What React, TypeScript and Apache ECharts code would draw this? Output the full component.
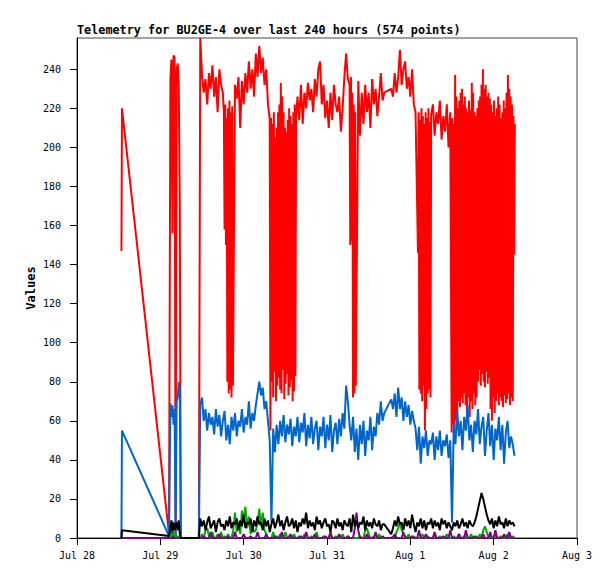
import React, { useEffect, useRef } from "react";
import * as echarts from "echarts";

const TITLE = "Telemetry for BU2GE-4 over last 240 hours (574 points)";
const Y_NAME = "Values";

// x axis: hours since Jul 28 00:00
const X_TICKS = [0, 24, 48, 72, 96, 120, 144];
const X_TICK_LABELS = ["Jul 28", "Jul 29", "Jul 30", "Jul 31", "Aug 1", "Aug 2", "Aug 3"];
const Y_TICKS = [0, 20, 40, 60, 80, 100, 120, 140, 160, 180, 200, 220, 240];

// early, irregular samples (all series)
const EARLY_HOURS = [12.8, 12.95, 26.5, 26.9, 27.2, 27.5, 27.8, 28.1, 28.4, 28.7, 29.0, 29.3, 29.6, 29.9, 30.2, 35.1];
const EARLY_RED = [147, 220, 2, 235, 245, 156, 247, 246, 0, 240, 243, 232, 172, 0, 0, 0];
const EARLY_BLUE = [0, 55, 1, 69, 62, 68, 58, 66, 0, 70, 72, 80, 76, 0, 0, 0];
const EARLY_GREEN = [0, 0, 0, 2, 4, 1, 3, 0, 2, 0, 1, 0, 0, 0, 0, 0];
const EARLY_PURPLE = [0, 0, 0, 0, 0, 1, 0, 0, 0, 0, 0, 0, 0, 0, 0, 0];
const EARLY_BLACK = [0, 4, 1, 5, 9, 3, 8, 4, 6, 8, 4, 9, 2, 0, 0, 0];

// red after hour 35.5: runs of samples [start hour, step hours, values]
const RED_N0 = [256, 237, 228, 235, 222, 238, 230, 242, 226, 236, 218, 240, 232, 228];
const RED_D1 = [218, 158, 222, 150, 215, 80, 220, 74, 224, 76, 218, 72, 221, 78];
const RED_N1 = [232, 225, 236, 210, 234, 222, 238, 228, 244, 230, 240, 226, 248, 236, 252, 238, 246, 232, 240, 222, 215];
const RED_D2 = [
  55, 215, 80, 212, 72, 218, 85, 205, 70, 210, 78, 218, 82, 222, 76, 233, 74, 226, 86, 218,
  71, 210, 79, 208, 84, 214, 73, 220, 77, 216, 81, 212, 70, 218, 75, 222, 83, 215,
];
const RED_N2 = [
  226, 214, 232, 212, 228, 220, 233, 224, 230, 218, 235, 226, 240, 244, 222,
  232, 215, 224, 210, 228, 214, 232, 222, 218, 226, 208, 220, 236, 248, 235,
];
const RED_D3 = [232, 150, 236, 152, 228, 72, 222, 74, 218, 78];
const RED_N3A = [234, 206, 228, 212, 232, 218, 228, 210, 235, 222, 230, 216, 226, 238, 224, 228];
const RED_N3B = [230, 226, 238, 228, 236, 250, 232, 240, 244, 230, 236, 226, 240, 222, 218];
const RED_D4 = [146, 218, 76, 214, 74, 220, 70, 216, 78, 212, 55, 218, 66, 215, 74, 220, 76, 213, 72, 217];
const RED_N4 = [222, 206, 218, 212, 224, 204, 216, 208, 222, 200, 218];
const RED_D5 = [
  54, 215, 58, 212, 56, 237, 60, 226, 55, 220, 70, 224, 67, 228, 72, 230, 69, 222, 74, 226,
  68, 220, 64, 218, 72, 224, 62, 219, 70, 233, 66, 228, 74, 218, 68, 216, 72, 220, 80, 224,
  86, 226, 78, 232, 84, 240, 80, 230, 77, 232, 85, 226, 79, 228, 82, 225, 66, 222, 60, 218,
  72, 224, 64, 216, 70, 220, 74, 226, 68, 222, 72, 215, 70, 218, 67, 224, 73, 220, 69, 228,
  71, 237, 74, 230, 68, 226, 72, 222, 70, 216, 145, 212,
];
const RED_RUNS: [number, number, number[]][] = [
  [35.5, 0.5, RED_N0],
  [42.3, 0.2, RED_D1],
  [45.5, 0.5, RED_N1],
  [55.7, 0.2, RED_D2],
  [63.5, 0.5, RED_N2],
  [78.5, 0.2, RED_D3],
  [81.0, 0.5, RED_N3A],
  [90.5, 0.5, RED_N3B],
  [98.2, 0.2, RED_D4],
  [102.5, 0.5, RED_N4],
  [107.9, 0.2, RED_D5],
];

// other series after hour 35.5, one sample every half hour (null = no sample)
const MAIN_START_H = 35.5;
const MAIN_STEP_H = 0.5;

const MAIN_BLUE = [
  68, 72, 60, 66, 55, 64, 58, 62, 53, 66, 57, 63, 52, 60,
  65, 50, 58, 48, 62, 55, 64, 52, 60, 57, 66, 54, 62, 58, 70, 56, 64, 60, 68, 74, 80, 73, 77, 66, 70, 60, 50,
  8, 56, 44, 58, 48, 60, 52, 63, 49, 58, 53, 61, 47, 57, 52, 62, 49, 59, 54, 64, 47, 58, 51, 62, 48, 56, 60, 45, 57, 52,
  62, 46, 58, 50, 63, 44, 55, 59, 48, 61, 52, 64, 56, 78, 70, 58, 50, 62, 44, 56, 40, 58, 48, 60, 42, 55, 50, 62, 45, 57,
  52, 64, 58, 70, 60, 64,
  null, null, null,
  71, 66, 74, 62, 77, 66, 72, 60, 70, 62, 68, 58, 65, 60, 56, 45, 57, 38, 52, 46, 55, 42, 50, 48, 54, 40, 52, 45, 55, 42,
  50, 47, 53, 41, 50,
  8, 58, 48, 65, 52, 60, 45, 62, 55, 68, 50, 58, 44, 60, 53, 66, 48, 57, 62, 42, 55, 64, 47, 58, 40, 56, 50, 62, 45, 58,
  38, 54, 60, 46, 52, 48, 42,
];

const MAIN_GREEN = [
  0, 2, 0, 4, 5, 1, 0, 3, 0, 0,
  2, 0, 3, 0, 1, 0, 2, 0, 0, 4,
  13, 3, 8, 2, 14, 9, 16, 5, 11, 2,
  6, 3, 4, 8, 15, 6, 13, 4, 2, 0,
  0, 0, 3, 0, 1, 0, 2, 0, 0, 3,
  0, 1, 0, 0, 2, 0, 0, 1, 0, 0,
  2, 0, 0, 0, 1, 0, 0, 3, 0, 0,
  0, 1, 0, 0, 0, 2, 0, 0, 1, 0,
  0, 0, 2, 0, 0, 1, 0, 0, 0, 0,
  0, 0, 1, 0, 0, 4, 5, 2, 0, 0,
  1, 0, 0, 2, 0, 0, 0,
  null, null, null,
  0, 1, 0, 3, 5, 8, 4, 2, 1, 0,
  2, 0, 0, 1, 0, 0, 0, 0, 2, 0,
  0, 1, 0, 0, 0, 2, 0, 0, 1, 0,
  0, 0, 2, 0, 0, 0, 1, 0, 0, 2,
  0, 0, 1, 0, 0, 0, 2, 0, 0, 1,
  0, 2, 0, 4, 6, 3, 0, 1, 0, 0,
  2, 0, 0, 1, 0, 0, 0, 2, 0, 0,
  1, 0,
];

const MAIN_PURPLE = [
  0, 0, 1, 0, 0, 0, 3, 0, 0, 0,
  0, 2, 0, 0, 0, 0, 1, 0, 0, 0,
  3, 0, 0, 0, 0, 2, 0, 0, 0, 1,
  0, 0, 0, 3, 0, 0, 0, 0, 2, 0,
  0, 0, 0, 1, 0, 0, 0, 3, 0, 0,
  0, 0, 2, 0, 0, 0, 0, 0, 1, 0,
  0, 3, 0, 0, 0, 0, 2, 0, 0, 0,
  0, 0, 1, 0, 0, 3, 0, 0, 0, 0,
  2, 0, 0, 0, 0, 1, 0, 0, 0, 5,
  13, 4, 0, 0, 0, 0, 2, 0, 0, 0,
  0, 3, 0, 0, 0, 1, 0,
  null, null, null,
  0, 0, 2, 0, 0, 0, 0, 3, 0, 0,
  0, 0, 1, 0, 0, 0, 4, 0, 0, 0,
  2, 0, 0, 0, 0, 3, 0, 0, 0, 0,
  1, 0, 0, 0, 4, 0, 0, 0, 0, 2,
  0, 0, 0, 4, 0, 0, 0, 0, 1, 0,
  0, 0, 0, 2, 0, 0, 0, 3, 0, 0,
  4, 0, 0, 0, 0, 2, 0, 0, 3, 0,
  0, 0,
];

const MAIN_BLACK = [
  10, 6, 9, 4, 8, 11, 5, 7, 9, 3, 8, 10, 6, 7, 4, 9, 6, 11, 5, 8, 7, 10, 4, 9, 6, 12, 5, 8, 7, 10, 3, 9, 6, 11, 7, 8, 4, 10, 6, 9, 3,
  7, 10, 5, 8, 12, 6, 9, 4, 8, 11, 6, 7, 10, 5, 9, 3, 8, 6, 10, 7, 13, 5, 9, 6, 8, 4, 11, 7, 9, 5, 8, 10, 6, 7, 3, 9, 8, 5, 10, 6,
  8, 4, 9, 7, 6, 10, 3, 12, 6, 9, 5, 8, 7, 11, 4, 9, 6, 8, 5, 10, 7, 6, 9, 4, 7, 7,
  null, null, null,
  2, 5, 9, 6, 11, 7, 8, 4, 10, 6, 9, 5, 12, 7, 3, 8, 6, 10, 5, 9, 4, 8, 7, 10, 5, 9, 6, 8, 4, 10, 7, 9, 5, 8, 6,
  4, 8, 6, 9, 5, 7, 10, 6, 8, 5, 9, 7, 6, 8, 11, 15, 19, 23, 20, 16, 12, 9, 7, 10, 5, 9, 6, 11, 7, 8, 5, 10, 6, 9, 7, 8, 6,
];

function earlyPairs(vals: number[]): [number, number][] {
  return vals.map((v, i) => [EARLY_HOURS[i], v] as [number, number]);
}

function mainPairs(early: number[], main: (number | null)[]): [number, number][] {
  const out = earlyPairs(early);
  main.forEach((v, i) => {
    if (v !== null && v !== undefined) out.push([MAIN_START_H + i * MAIN_STEP_H, v]);
  });
  return out;
}

function redPairs(): [number, number][] {
  const out = earlyPairs(EARLY_RED);
  RED_RUNS.forEach(([start, step, vals]) => {
    vals.forEach((v, i) => out.push([+(start + i * step).toFixed(3), v]));
  });
  return out;
}

const MONO = "'DejaVu Sans Mono', 'Liberation Mono', monospace";

export default function App() {
  const ref = useRef<HTMLDivElement>(null);
  useEffect(() => {
    if (!ref.current) return;
    const chart = echarts.init(ref.current, undefined, { renderer: "svg" });
    const mk = (name: string, color: string, data: [number, number][]) => ({
      name,
      type: "line",
      data,
      showSymbol: false,
      symbol: "none",
      lineStyle: { color, width: 2 },
      itemStyle: { color },
      clip: true,
    });
    chart.setOption({
      animation: false,
      backgroundColor: "#ffffff",
      title: {
        text: TITLE,
        left: 77,
        top: 24,
        padding: 0,
        textStyle: { fontFamily: MONO, fontWeight: "bold", fontSize: 11.8, color: "#000" },
      },
      grid: {
        left: 77,
        right: 38,
        top: 38,
        bottom: 41,
        show: true,
        borderColor: "#444",
        borderWidth: 1,
        backgroundColor: "transparent",
      },
      xAxis: {
        type: "value",
        min: 0,
        max: 144,
        interval: 24,
        splitLine: { show: false },
        axisLine: { show: true, lineStyle: { color: "#000", width: 1 } },
        axisTick: { show: true, inside: false, length: 7, lineStyle: { color: "#000", width: 1 } },
        axisLabel: {
          margin: 12,
          color: "#000",
          fontFamily: MONO,
          fontSize: 10,
          formatter: (v: number) => {
            const k = X_TICKS.indexOf(Math.round(v));
            return k >= 0 ? X_TICK_LABELS[k] : "";
          },
        },
      },
      yAxis: {
        type: "value",
        min: 0,
        max: 256,
        name: Y_NAME,
        nameLocation: "middle",
        nameGap: 40,
        nameRotate: 90,
        nameMoveOverlap: false,
        nameTextStyle: { fontFamily: MONO, fontWeight: "bold", fontSize: 12, color: "#000" },
        splitLine: { show: false },
        axisLine: { show: true, lineStyle: { color: "#000", width: 1 } },
        axisTick: { show: true, inside: false, length: 7, customValues: Y_TICKS, lineStyle: { color: "#000", width: 1 } },
        axisLabel: {
          margin: 16,
          color: "#000",
          fontFamily: MONO,
          fontSize: 10,
          customValues: Y_TICKS,
        },
      },
      series: [
        mk("red", "#ff0000", redPairs()),
        mk("blue", "#0066cc", mainPairs(EARLY_BLUE, MAIN_BLUE)),
        mk("green", "#00aa00", mainPairs(EARLY_GREEN, MAIN_GREEN)),
        mk("purple", "#800080", mainPairs(EARLY_PURPLE, MAIN_PURPLE)),
        mk("black", "#000000", mainPairs(EARLY_BLACK, MAIN_BLACK)),
      ],
    });
    return () => chart.dispose();
  }, []);
  return (
    <div
      ref={ref}
      style={{ position: "absolute", left: 0, top: 0, width: 615, height: 579, background: "#fff" }}
    />
  );
}
